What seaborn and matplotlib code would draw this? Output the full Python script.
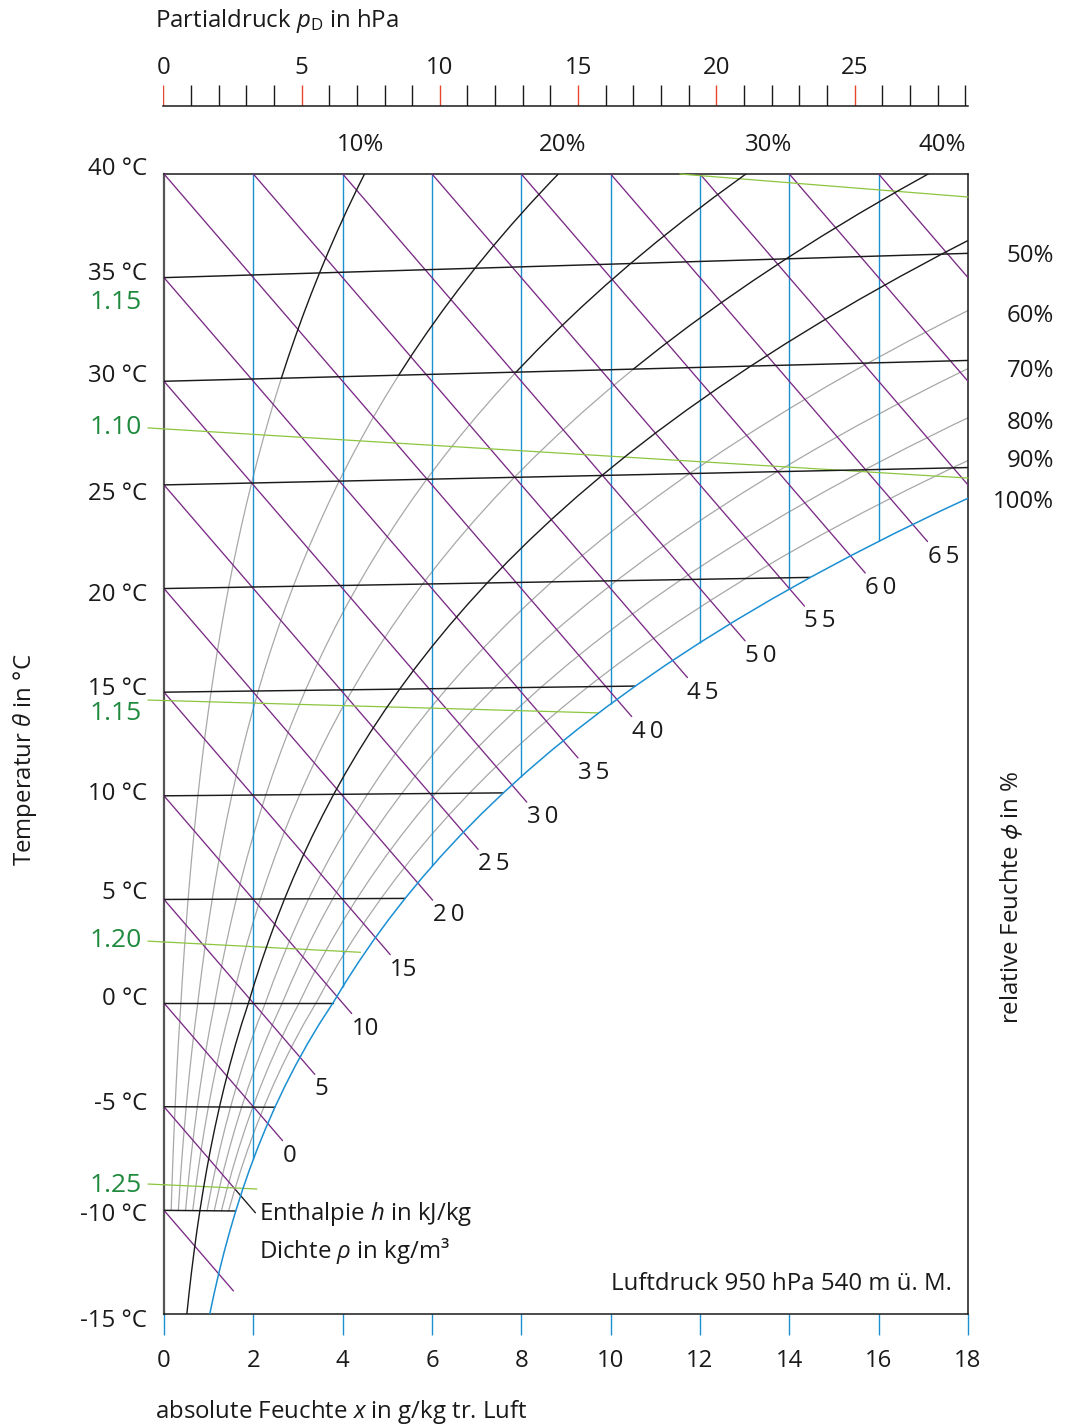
import numpy as np
import pandas as pd
import matplotlib
matplotlib.use("Agg")
import matplotlib.pyplot as plt
import seaborn as sns
from matplotlib.transforms import blended_transform_factory, offset_copy

# ---------------------------------------------------------------- data
# saturation vapour pressure (hPa) per whole degree, over ice below 0 °C
sat_temp = list(range(-15, 41))
sat_pd = [1.652, 1.811, 1.984, 2.172, 2.376, 2.597, 2.837, 3.097, 3.379, 3.685,
          4.015, 4.372, 4.757, 5.173, 5.622, 6.112, 6.571, 7.060, 7.581, 8.135,
          8.726, 9.354, 10.021, 10.730, 11.483, 12.282, 13.129, 14.028, 14.981, 15.990,
          17.058, 18.188, 19.384, 20.647, 21.983, 23.393, 24.882, 26.453, 28.111, 29.858,
          31.699, 33.639, 35.681, 37.831, 40.092, 42.470, 44.969, 47.596, 50.354, 53.251,
          56.290, 59.479, 62.823, 66.328, 70.002, 73.849]

pd_at_xmax = 29.1          # partial pressure (hPa) at x = 18 g/kg
x_max = 18
cp_vapour = 0.00186        # kJ/(g K), skews the isotherms
r_evap = 2.5               # kJ/g, slope of the enthalpy lines

rh_levels = [10, 20, 30, 40, 50, 60, 70, 80, 90]
rh_black_upper = [10, 20, 30, 40]
rh_black_full = [50]
rh_top_labels = [10, 20, 30, 40]
rh_side_labels = [50, 60, 70, 80, 90, 100]
isotherm_temps = [-10, -5, 0, 5, 10, 15, 20, 25, 30, 35]
enthalpy_levels = list(range(-10, 90, 5))
enthalpy_labelled = list(range(0, 70, 5))
abs_hum_ticks = list(range(0, 19, 2))
pd_ticks = list(range(0, 30))
pd_tick_labels = [0, 5, 10, 15, 20, 25]
temp_tick_labels = [40, 35, 30, 25, 20, 15, 10, 5, 0, -5, -10, -15]

density_x_start = [11.55, -0.36, -0.36, -0.36, -0.36]
density_t_start = [40.0, 27.75, 14.62, 2.99, -8.73]
density_x_end = [18.0, 18.0, 9.72, 4.4, 2.08]
density_t_end = [38.89, 25.33, 14.0, 2.45, -8.97]
density_label_text = ["1.15", "1.10", "1.15", "1.20", "1.25"]

# ---------------------------------------------------------------- style
sns.set_theme(style="white")
plt.rcParams['font.family'] = ['Open Sans', 'DejaVu Sans']
plt.rcParams['mathtext.fontset'] = 'custom'
plt.rcParams['mathtext.rm'] = 'Open Sans'
plt.rcParams['mathtext.it'] = 'Open Sans:italic'
plt.rcParams['mathtext.fallback'] = 'stixsans'

TXT = '#1a1a1a'
PURPLE = '#7a2a85'
BLUE = '#1b8fd2'
GRAY = '#a8a8a8'
GREEN_LINE = '#8cc63f'
GREEN_TXT = '#1f8a3e'
RED = '#e8452c'
FS = 17.3

# label placement helpers (positions in axis units, offsets in pixels)
density_label_t = [33.8, 27.75, 13.95, 3.0, -8.8]
temp_label_shift = [5, 4, 5, -9, -6, 3, 2, 6, 4, 3, -5, -7]
rh_top_label_x = [4.39, 8.93, 13.54, 17.42]
rh_side_label_t = [36.04, 33.15, 30.50, 27.99, 26.15, 24.18]

sat_temp_a = np.array(sat_temp, dtype=float)
sat_pd_a = np.array(sat_pd)
x_per_hpa = x_max / pd_at_xmax


def ycoord(theta, x):
    return theta * (1 + cp_vapour * x)


sat_x = sat_pd_a * x_per_hpa
sat_y = ycoord(sat_temp_a, sat_x)
sat_h = sat_y + r_evap * sat_x

fig = plt.figure(figsize=(10.73, 14.26), dpi=100)
W, H = 1073, 1426
ax = fig.add_axes([164 / W, 1 - 1314 / H, 804 / W, 1140 / H])
ax.set_xlim(0, x_max)
ax.set_ylim(-15, 40)

# relative humidity curves
rows = []
for phi in rh_levels:
    t0 = -15 if phi in rh_black_full else -10
    m = sat_temp_a >= t0
    xs = phi / 100 * sat_pd_a[m] * x_per_hpa
    ys = ycoord(sat_temp_a[m], xs)
    for t, xv, yv in zip(sat_temp_a[m], xs, ys):
        if phi in rh_black_full:
            rows.append((phi, 'black', t, xv, yv))
        elif phi in rh_black_upper:
            if t <= 30:
                rows.append((phi, 'gray', t, xv, yv))
            if t >= 30:
                rows.append((phi, 'black', t, xv, yv))
        else:
            rows.append((phi, 'gray', t, xv, yv))
rh = pd.DataFrame(rows, columns=['phi', 'tone', 't', 'x', 'y'])
rh['curve'] = rh['phi'].astype(str) + rh['tone']

sns.lineplot(data=rh[rh.tone == 'gray'], x='x', y='y', units='curve', estimator=None,
             sort=False, color=GRAY, lw=0.9, ax=ax, zorder=2)

# lines of constant absolute humidity
vx = np.array(abs_hum_ticks[1:-1], dtype=float)
vy = np.interp(vx, sat_x, sat_y)
ax.vlines(vx, vy, 40, colors=BLUE, lw=1.0, zorder=3)

# enthalpy lines
h_rows = []
label_pts = []
for h in enthalpy_levels:
    xs0 = max(0.0, (h - 40) / r_evap)
    if xs0 >= x_max:
        continue
    xc = np.interp(h, sat_h, sat_x)
    if h == -5:
        xe = xc - 0.1
    else:
        xe = min(xc + 0.33, x_max)
    for xv in (xs0, xe):
        h_rows.append((h, xv, h - r_evap * xv))
    if h in enthalpy_labelled:
        label_pts.append((h, xe, h - r_evap * xe))
hl = pd.DataFrame(h_rows, columns=['h', 'x', 'y'])
sns.lineplot(data=hl, x='x', y='y', units='h', estimator=None, sort=False,
             color=PURPLE, lw=0.95, ax=ax, zorder=4)

for h, xe, ye in label_pts:
    s = str(h)
    if h >= 20:
        s = s[0] + '\u2009' + s[1]
    ax.text(xe, ye, s, fontsize=FS, color=TXT, ha='left', va='top',
            transform=offset_copy(ax.transData, fig=fig, x=0, y=-3, units='dots'))

# leader to the legend text, continuing the h = -5 line
xc5 = np.interp(-5, sat_h, sat_x)
lx = np.array([xc5 - 0.1, xc5 + 0.33])
ax.plot(lx, -5 - r_evap * lx, color=TXT, lw=0.95, zorder=4)
ax.text(lx[-1], -5 - r_evap * lx[-1], 'Enthalpie $h$ in kJ/kg', fontsize=FS, color=TXT,
        ha='left', va='center',
        transform=offset_copy(ax.transData, fig=fig, x=4, y=-1, units='dots'))
ax.text(lx[-1], -5 - r_evap * lx[-1], 'Dichte $\\rho$ in kg/m³', fontsize=FS, color=TXT,
        ha='left', va='center',
        transform=offset_copy(ax.transData, fig=fig, x=4, y=-38, units='dots'))

# density lines
for xs0, ts0, xe, te in zip(density_x_start, density_t_start, density_x_end, density_t_end):
    ax.plot([xs0, xe], [ts0, te], color=GREEN_LINE, lw=0.9, zorder=5, clip_on=False)
lab_tr = blended_transform_factory(fig.transFigure, ax.transData)
for s, t in zip(density_label_text, density_label_t):
    ax.text(142 / W, t, s, transform=lab_tr, ha='right', va='center',
            fontsize=19, color=GREEN_TXT)

# isotherms
iso_rows = []
for t in isotherm_temps:
    xe = min(np.interp(t, sat_temp_a, sat_x), x_max)
    for xv in (0.0, xe):
        iso_rows.append((t, xv, ycoord(t, xv)))
iso = pd.DataFrame(iso_rows, columns=['t', 'x', 'y'])
sns.lineplot(data=iso, x='x', y='y', units='t', estimator=None, sort=False,
             color=TXT, lw=1.05, ax=ax, zorder=6)

# black parts of the relative humidity curves
sns.lineplot(data=rh[rh.tone == 'black'], x='x', y='y', units='curve', estimator=None,
             sort=False, color=TXT, lw=1.0, ax=ax, zorder=6)

# saturation curve
ax.plot(sat_x, sat_y, color=BLUE, lw=1.1, zorder=7)

# temperature labels
for t, dy in zip(temp_tick_labels, temp_label_shift):
    ax.text(147 / W, t, f'{t} °C', transform=offset_copy(lab_tr, fig=fig, x=0, y=dy, units='dots'),
            ha='right', va='center', fontsize=FS, color=TXT)

# relative humidity labels
top_tr = blended_transform_factory(ax.transData, fig.transFigure)
for phi, xl in zip(rh_top_labels, rh_top_label_x):
    ax.text(xl, 1 - 145 / H, f'{phi}%', transform=top_tr, ha='center', va='center',
            fontsize=FS, color=TXT)
for phi, yl in zip(rh_side_labels, rh_side_label_t):
    ax.text(1054 / W, yl, f'{phi}%', transform=lab_tr, ha='right', va='center',
            fontsize=FS, color=TXT)

# frame and bottom scale
for side in ['top', 'right', 'bottom']:
    ax.spines[side].set_color(TXT)
    ax.spines[side].set_linewidth(1.1)
ax.spines['left'].set_color('#555555')
ax.spines['left'].set_linewidth(1.6)
ax.set_xticks(abs_hum_ticks)
ax.set_xticklabels([str(v) for v in abs_hum_ticks])
ax.set_yticks([])
ax.tick_params(axis='x', direction='out', length=15, width=1.0, color=BLUE,
               labelsize=FS, labelcolor=TXT, pad=10, bottom=True)
ax.set_xlabel('')
ax.set_ylabel('')

ax.text(0.98, -13.55, 'Luftdruck 950 hPa 540 m ü. M.',
        transform=blended_transform_factory(ax.transAxes, ax.transData),
        ha='right', va='center', fontsize=FS, color=TXT)

# partial pressure scale on top
axp = fig.add_axes([163.3 / W, 1 - 106 / H, (968 - 163.3) / W, 21 / H])
axp.set_xlim(0, pd_at_xmax)
axp.set_ylim(0, 1)
for side in ['top', 'right', 'left']:
    axp.spines[side].set_visible(False)
axp.spines['bottom'].set_color(TXT)
axp.spines['bottom'].set_linewidth(1.1)
axp.set_xticks([])
axp.set_yticks([])
axp.patch.set_alpha(0)
tick_cols = [RED if p in pd_tick_labels else TXT for p in pd_ticks]
axp.vlines(pd_ticks, 0, 1, colors=tick_cols, lw=1.0)
ptr = blended_transform_factory(axp.transData, fig.transFigure)
for p in pd_tick_labels:
    axp.text(p, 1 - 68 / H, str(p), transform=ptr, ha='center', va='center',
             fontsize=FS, color=TXT)

# axis titles
fig.text(155 / W, 1 - 27 / H, 'Partialdruck $p_\\mathrm{D}$ in hPa', ha='left', va='baseline',
         fontsize=FS, color=TXT)
fig.text(155 / W, 1 - 1418 / H, 'absolute Feuchte $x$ in g/kg tr. Luft', ha='left', va='baseline',
         fontsize=FS, color=TXT)
fig.text(25 / W, 1 - 760 / H, 'Temperatur $\\theta$ in °C', rotation=90, ha='center', va='center',
         fontsize=FS, color=TXT)
fig.text(1012 / W, 1 - 897 / H, 'relative Feuchte $\\phi$ in %', rotation=90, ha='center',
         va='center', fontsize=FS, color=TXT)

fig.savefig('out.png', dpi=100, facecolor='white')
